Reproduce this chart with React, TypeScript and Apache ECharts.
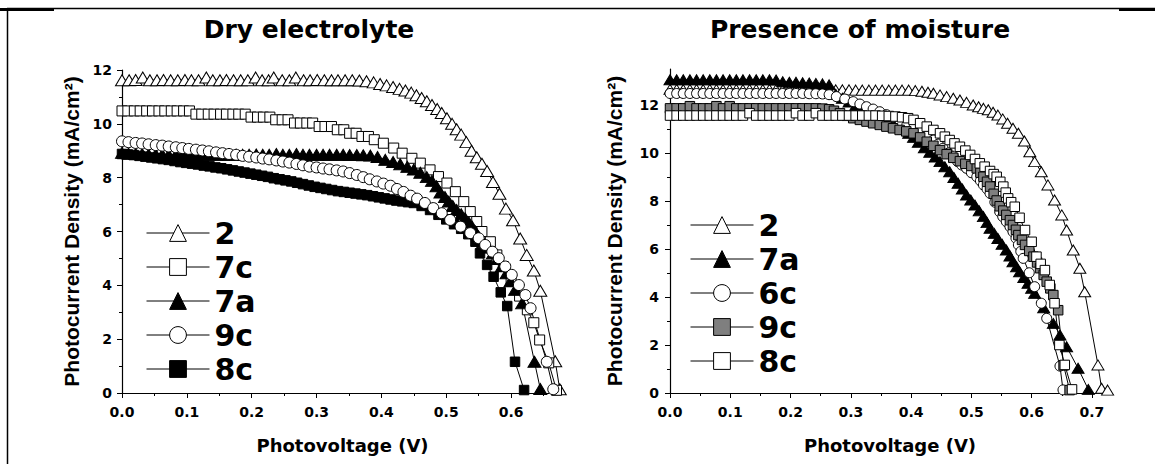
import React, { useEffect, useRef } from "react";
import * as echarts from "echarts";

type P = [number, number];

// ---------- Dry electrolyte (left panel) ----------
const dry2: P[] = [
  [0.000,11.62],[0.011,11.62],[0.021,11.63],[0.032,11.72],[0.043,11.62],[0.054,11.62],[0.064,11.63],[0.075,11.62],
  [0.086,11.62],[0.097,11.63],[0.107,11.62],[0.118,11.62],[0.130,11.72],[0.140,11.62],[0.151,11.62],[0.161,11.63],
  [0.172,11.62],[0.183,11.62],[0.194,11.62],[0.206,11.72],[0.216,11.62],[0.226,11.62],[0.234,11.72],[0.247,11.62],
  [0.258,11.62],[0.268,11.72],[0.280,11.62],[0.290,11.62],[0.301,11.63],[0.312,11.62],[0.323,11.62],[0.333,11.62],
  [0.344,11.62],[0.355,11.62],[0.366,11.61],[0.377,11.58],[0.388,11.54],[0.398,11.48],[0.408,11.43],[0.418,11.37],
  [0.428,11.30],[0.437,11.24],[0.446,11.16],[0.454,11.06],[0.462,10.96],[0.470,10.84],[0.478,10.70],[0.486,10.55],
  [0.493,10.40],[0.501,10.21],[0.509,10.00],[0.516,9.80],[0.523,9.60],[0.531,9.32],[0.539,9.00],[0.547,8.76],
  [0.555,8.52],[0.563,8.25],[0.572,7.84],[0.582,7.40],[0.592,6.85],[0.603,6.42],[0.614,5.74],[0.624,5.13],
  [0.635,4.55],[0.645,3.80],[0.668,1.18],[0.675,0.14]
];
const dry7c: P[] = [
  [0.000,10.48],[0.009,10.48],[0.019,10.48],[0.028,10.48],[0.038,10.48],[0.047,10.48],[0.057,10.48],[0.066,10.48],
  [0.076,10.48],[0.085,10.48],[0.095,10.48],[0.104,10.48],[0.114,10.36],[0.123,10.36],[0.133,10.36],[0.142,10.36],
  [0.152,10.36],[0.161,10.36],[0.171,10.36],[0.180,10.36],[0.190,10.36],[0.199,10.25],[0.209,10.25],[0.218,10.25],
  [0.228,10.25],[0.237,10.15],[0.247,10.15],[0.256,10.15],[0.266,10.03],[0.275,10.03],[0.285,10.03],[0.294,10.03],
  [0.304,9.90],[0.313,9.90],[0.323,9.90],[0.332,9.78],[0.342,9.78],[0.351,9.65],[0.361,9.65],[0.370,9.53],
  [0.380,9.53],[0.389,9.41],[0.403,9.28],[0.419,9.10],[0.432,8.91],[0.447,8.72],[0.460,8.54],[0.475,8.29],
  [0.488,8.04],[0.501,7.80],[0.514,7.48],[0.527,7.11],[0.537,6.74],[0.547,6.37],[0.555,6.00],[0.568,5.62],
  [0.578,5.13],[0.588,4.69],[0.600,4.15],[0.613,3.60],[0.625,3.09],[0.635,2.61],[0.644,1.97],[0.658,1.12],
  [0.670,0.10]
];
const dry7a: P[] = [
  [0.000,8.92],[0.010,8.90],[0.021,8.88],[0.031,8.87],[0.041,8.86],[0.052,8.86],[0.062,8.86],[0.072,8.85],
  [0.083,8.85],[0.093,8.85],[0.103,8.85],[0.114,8.85],[0.124,8.85],[0.134,8.85],[0.145,8.85],[0.155,8.85],
  [0.165,8.85],[0.176,8.85],[0.186,8.85],[0.196,8.85],[0.207,8.86],[0.217,8.85],[0.227,8.85],[0.238,8.88],
  [0.248,8.85],[0.258,8.85],[0.269,8.88],[0.279,8.85],[0.289,8.85],[0.300,8.85],[0.310,8.85],[0.320,8.85],
  [0.331,8.85],[0.341,8.85],[0.351,8.84],[0.362,8.84],[0.372,8.83],[0.383,8.82],[0.394,8.77],[0.406,8.66],
  [0.418,8.58],[0.429,8.50],[0.440,8.40],[0.450,8.30],[0.460,8.18],[0.470,8.02],[0.478,7.88],[0.485,7.68],
  [0.491,7.45],[0.498,7.28],[0.504,7.11],[0.510,6.95],[0.516,6.80],[0.523,6.64],[0.529,6.49],[0.535,6.33],
  [0.540,6.18],[0.545,6.00],[0.550,5.81],[0.557,5.60],[0.564,5.40],[0.572,5.19],[0.579,4.98],[0.586,4.72],
  [0.593,4.45],[0.599,4.15],[0.606,3.83],[0.617,3.33],[0.636,1.16],[0.645,0.15]
];
const dry9c: P[] = [
  [0.000,9.35],[0.010,9.32],[0.021,9.29],[0.031,9.27],[0.041,9.24],[0.052,9.21],[0.062,9.19],[0.072,9.16],
  [0.083,9.13],[0.093,9.10],[0.103,9.07],[0.114,9.04],[0.124,9.01],[0.134,8.98],[0.145,8.94],[0.155,8.91],
  [0.165,8.88],[0.176,8.85],[0.186,8.81],[0.196,8.78],[0.207,8.75],[0.217,8.71],[0.227,8.68],[0.238,8.64],
  [0.248,8.60],[0.258,8.56],[0.269,8.51],[0.279,8.46],[0.289,8.41],[0.300,8.38],[0.310,8.34],[0.320,8.31],
  [0.331,8.27],[0.341,8.23],[0.351,8.17],[0.362,8.10],[0.372,8.02],[0.382,7.94],[0.393,7.86],[0.403,7.78],
  [0.414,7.70],[0.424,7.58],[0.434,7.47],[0.445,7.33],[0.455,7.22],[0.467,7.06],[0.480,6.87],[0.493,6.68],
  [0.506,6.43],[0.522,6.18],[0.537,5.94],[0.550,5.75],[0.560,5.50],[0.571,5.25],[0.581,5.01],[0.591,4.70],
  [0.601,4.39],[0.612,4.01],[0.622,3.64],[0.630,3.15],[0.655,1.16],[0.665,0.14]
];
const dry8c: P[] = [
  [0.000,8.88],[0.009,8.86],[0.018,8.84],[0.027,8.81],[0.036,8.78],[0.045,8.75],[0.054,8.72],[0.063,8.69],
  [0.072,8.66],[0.081,8.62],[0.090,8.58],[0.099,8.55],[0.108,8.52],[0.117,8.49],[0.126,8.45],[0.135,8.42],
  [0.144,8.38],[0.153,8.35],[0.162,8.31],[0.171,8.27],[0.180,8.23],[0.189,8.19],[0.198,8.15],[0.207,8.11],
  [0.216,8.07],[0.225,8.03],[0.234,7.98],[0.243,7.94],[0.252,7.90],[0.261,7.86],[0.270,7.81],[0.279,7.76],
  [0.288,7.71],[0.297,7.66],[0.306,7.62],[0.315,7.58],[0.324,7.54],[0.333,7.50],[0.342,7.47],[0.351,7.44],
  [0.360,7.41],[0.369,7.38],[0.378,7.35],[0.387,7.31],[0.396,7.27],[0.405,7.23],[0.414,7.19],[0.423,7.15],
  [0.432,7.12],[0.441,7.09],[0.450,7.06],[0.462,6.95],[0.475,6.80],[0.488,6.62],[0.500,6.45],[0.512,6.27],
  [0.523,6.10],[0.534,5.90],[0.545,5.62],[0.552,5.19],[0.563,4.76],[0.573,4.32],[0.584,3.74],[0.594,3.23],
  [0.606,1.16],[0.620,0.11]
];

// ---------- Presence of moisture (right panel) ----------
const wet2: P[] = [
  [0.000,12.65],[0.011,12.65],[0.022,12.64],[0.033,12.65],[0.044,12.65],[0.055,12.64],[0.066,12.65],[0.077,12.65],
  [0.088,12.64],[0.099,12.65],[0.110,12.65],[0.121,12.64],[0.132,12.65],[0.143,12.65],[0.154,12.64],[0.165,12.65],
  [0.176,12.65],[0.187,12.64],[0.198,12.65],[0.209,12.65],[0.220,12.64],[0.231,12.65],[0.242,12.65],[0.253,12.64],
  [0.264,12.64],[0.275,12.63],[0.286,12.63],[0.297,12.63],[0.308,12.62],[0.319,12.62],[0.330,12.62],[0.341,12.62],
  [0.352,12.62],[0.363,12.62],[0.374,12.62],[0.385,12.62],[0.396,12.62],[0.407,12.60],[0.418,12.57],[0.428,12.53],
  [0.437,12.49],[0.448,12.42],[0.459,12.35],[0.470,12.28],[0.481,12.21],[0.492,12.11],[0.503,12.00],[0.512,11.93],
  [0.520,11.86],[0.528,11.80],[0.536,11.70],[0.544,11.58],[0.552,11.42],[0.560,11.24],[0.569,11.03],[0.578,10.82],
  [0.588,10.50],[0.597,10.05],[0.605,9.64],[0.616,9.22],[0.627,8.67],[0.638,8.04],[0.650,7.42],[0.658,6.79],
  [0.669,5.96],[0.680,5.20],[0.688,4.22],[0.710,1.17],[0.716,0.20],[0.726,0.12]
];
const wet7a: P[] = [
  [0.000,13.05],[0.011,13.05],[0.022,13.05],[0.033,13.05],[0.044,13.05],[0.055,13.05],[0.066,13.05],[0.077,13.05],
  [0.088,13.05],[0.099,13.05],[0.110,13.05],[0.121,13.05],[0.132,13.05],[0.143,13.05],[0.154,13.05],[0.165,13.05],
  [0.176,13.04],[0.187,12.97],[0.198,12.95],[0.209,12.95],[0.220,12.93],[0.231,12.92],[0.242,12.90],[0.253,12.88],
  [0.264,12.84],[0.275,12.45],[0.286,12.28],[0.297,12.12],[0.308,11.98],[0.319,11.85],[0.330,11.73],[0.341,11.61],
  [0.352,11.49],[0.363,11.36],[0.372,11.24],[0.380,11.12],[0.388,11.00],[0.396,10.82],[0.404,10.65],[0.412,10.45],
  [0.422,10.22],[0.431,10.03],[0.440,9.83],[0.448,9.64],[0.456,9.43],[0.464,9.22],[0.471,8.98],[0.478,8.74],
  [0.485,8.50],[0.492,8.25],[0.499,8.04],[0.506,7.83],[0.513,7.59],[0.520,7.35],[0.526,7.10],[0.531,6.86],
  [0.538,6.65],[0.544,6.44],[0.551,6.20],[0.558,5.96],[0.564,5.71],[0.569,5.47],[0.575,5.26],[0.580,5.05],
  [0.587,4.81],[0.594,4.57],[0.600,4.36],[0.605,4.15],[0.620,3.55],[0.636,2.90],[0.647,2.42],[0.658,1.93],
  [0.677,1.03],[0.694,0.15]
];
const wet6c: P[] = [
  [0.000,12.48],[0.011,12.48],[0.022,12.48],[0.033,12.48],[0.044,12.48],[0.055,12.48],[0.066,12.48],[0.077,12.48],
  [0.088,12.48],[0.099,12.48],[0.110,12.48],[0.121,12.48],[0.132,12.48],[0.143,12.48],[0.154,12.48],[0.165,12.48],
  [0.176,12.48],[0.187,12.48],[0.198,12.48],[0.209,12.48],[0.220,12.48],[0.231,12.47],[0.242,12.47],[0.253,12.46],
  [0.264,12.43],[0.276,12.35],[0.290,12.25],[0.304,12.14],[0.315,12.04],[0.326,11.93],[0.337,11.83],[0.348,11.72],
  [0.359,11.60],[0.370,11.49],[0.382,11.33],[0.393,11.17],[0.404,11.03],[0.415,10.89],[0.426,10.72],[0.437,10.54],
  [0.445,10.37],[0.453,10.20],[0.462,10.00],[0.470,9.85],[0.477,9.65],[0.484,9.50],[0.492,9.36],[0.500,9.18],
  [0.509,9.01],[0.515,8.84],[0.520,8.67],[0.526,8.50],[0.531,8.32],[0.539,7.95],[0.547,7.55],[0.552,7.35],
  [0.558,7.14],[0.564,6.93],[0.569,6.72],[0.574,6.45],[0.578,6.17],[0.582,5.90],[0.586,5.61],[0.596,5.01],
  [0.605,4.43],[0.616,3.74],[0.625,3.11],[0.647,1.12],[0.652,0.13]
];
const wet9c: P[] = [
  [0.000,11.86],[0.011,11.86],[0.022,11.86],[0.033,11.95],[0.044,11.86],[0.055,11.86],[0.066,11.86],[0.077,11.95],
  [0.088,11.86],[0.099,11.95],[0.110,11.86],[0.121,11.86],[0.132,11.86],[0.143,11.86],[0.154,11.86],[0.165,11.86],
  [0.176,11.86],[0.187,11.86],[0.198,11.86],[0.209,11.86],[0.220,11.86],[0.231,11.86],[0.242,11.86],[0.253,11.85],
  [0.264,11.82],[0.272,11.76],[0.282,11.66],[0.293,11.55],[0.304,11.45],[0.315,11.38],[0.326,11.31],[0.337,11.24],
  [0.348,11.17],[0.359,11.10],[0.370,11.03],[0.381,10.96],[0.392,10.90],[0.404,10.82],[0.415,10.65],[0.426,10.47],
  [0.437,10.30],[0.448,10.12],[0.459,9.95],[0.470,9.80],[0.481,9.66],[0.490,9.55],[0.500,9.46],[0.509,9.36],
  [0.515,9.18],[0.520,9.01],[0.526,8.80],[0.531,8.60],[0.537,8.30],[0.542,8.02],[0.547,7.78],[0.553,7.60],
  [0.558,7.42],[0.564,7.20],[0.569,7.00],[0.574,6.80],[0.578,6.58],[0.584,6.38],[0.589,6.17],[0.596,5.92],
  [0.603,5.68],[0.609,5.44],[0.614,5.20],[0.620,4.92],[0.625,4.64],[0.631,4.36],[0.636,4.08],[0.644,3.45],
  [0.653,1.15],[0.663,0.12]
];
const wet8c: P[] = [
  [0.000,11.56],[0.011,11.56],[0.022,11.56],[0.033,11.56],[0.044,11.56],[0.055,11.56],[0.066,11.56],[0.077,11.56],
  [0.088,11.56],[0.099,11.56],[0.110,11.56],[0.121,11.56],[0.132,11.66],[0.143,11.56],[0.154,11.56],[0.165,11.56],
  [0.176,11.56],[0.187,11.56],[0.198,11.56],[0.209,11.66],[0.220,11.56],[0.231,11.56],[0.242,11.66],[0.253,11.56],
  [0.264,11.56],[0.275,11.56],[0.286,11.56],[0.297,11.56],[0.308,11.56],[0.319,11.56],[0.330,11.56],[0.341,11.56],
  [0.352,11.55],[0.363,11.54],[0.374,11.52],[0.385,11.49],[0.395,11.45],[0.404,11.38],[0.415,11.24],[0.426,11.10],
  [0.437,10.96],[0.448,10.82],[0.456,10.68],[0.464,10.54],[0.472,10.40],[0.481,10.26],[0.490,10.10],[0.498,9.92],
  [0.506,9.75],[0.514,9.57],[0.522,9.43],[0.531,9.25],[0.537,9.12],[0.542,9.01],[0.548,8.80],[0.553,8.60],
  [0.557,8.35],[0.561,8.11],[0.566,7.95],[0.572,7.76],[0.580,7.30],[0.589,6.79],[0.600,6.30],[0.608,5.68],
  [0.615,5.38],[0.622,5.12],[0.630,4.50],[0.638,3.74],[0.646,2.00],[0.655,1.17],[0.667,0.15]
];

// ---------- axis ticks ----------
const xTicksDry = [0, 0.1, 0.2, 0.3, 0.4, 0.5, 0.6];
const xMinorDry = [0.05, 0.15, 0.25, 0.35, 0.45, 0.55, 0.65];
const xTicksWet = [0, 0.1, 0.2, 0.3, 0.4, 0.5, 0.6, 0.7];
const xMinorWet = [0.05, 0.15, 0.25, 0.35, 0.45, 0.55, 0.65];
const yTicksDry = [0, 2, 4, 6, 8, 10, 12];
const yMinorDry = [1, 3, 5, 7, 9, 11];
const yTicksWet = [0, 2, 4, 6, 8, 10, 12];
const yMinorWet = [1, 3, 5, 7, 9, 11, 13];

const titles = ["Dry electrolyte", "Presence of moisture"];
const xName = "Photovoltage (V)";
const yName = "Photocurrent Density (mA/cm\u00B2)";

const BOLD = "DejaVu Sans";

export default function App() {
  const ref = useRef<HTMLDivElement>(null);
  useEffect(() => {
    document.body.style.margin = "0";
    if (!ref.current) return;
    const chart = echarts.init(ref.current, undefined, { renderer: "svg" });

    const lineStyle = { color: "#000", width: 1 };
    const mk = (name: string, data: P[], idx: number, symbol: string, size: any, fill: string) => ({
      type: "line",
      name,
      data,
      xAxisIndex: idx,
      yAxisIndex: idx,
      symbol,
      symbolSize: size,
      showSymbol: true,
      showAllSymbol: true,
      clip: false,
      silent: true,
      lineStyle,
      itemStyle: { color: fill, borderColor: "#000", borderWidth: 1 },
      emphasis: { disabled: true },
    });

    const tickLabel = { color: "#000", fontFamily: BOLD, fontWeight: "bold", fontSize: 14 };
    const mainX = (grid: number, max: number, ticks: number[]) => ({
      type: "value", gridIndex: grid, position: "bottom", min: 0, max, interval: 0.1,
      axisLine: { show: true, onZero: false, lineStyle: { color: "#000", width: 1.2 } },
      splitLine: { show: false },
      axisTick: { show: true, length: 5, customValues: ticks, lineStyle: { color: "#000", width: 1 } },
      axisLabel: { ...tickLabel, margin: 12, customValues: ticks, formatter: (v: number) => v.toFixed(1) },
      name: xName, nameLocation: "middle", nameGap: 43,
      nameTextStyle: { color: "#000", fontFamily: BOLD, fontWeight: "bold", fontSize: 18 },
    });
    const minorX = (grid: number, max: number, ticks: number[]) => ({
      type: "value", gridIndex: grid, position: "bottom", min: 0, max,
      axisLine: { show: false }, splitLine: { show: false }, axisLabel: { show: false },
      axisTick: { show: true, length: 3, customValues: ticks, lineStyle: { color: "#000", width: 1 } },
    });
    const mainY = (grid: number, max: number, ticks: number[], gap: number, margin: number) => ({
      type: "value", gridIndex: grid, position: "left", min: 0, max, interval: 2,
      axisLine: { show: true, onZero: false, lineStyle: { color: "#000", width: 1.2 } },
      splitLine: { show: false },
      axisTick: { show: true, length: 5, customValues: ticks, lineStyle: { color: "#000", width: 1 } },
      axisLabel: { ...tickLabel, margin, customValues: ticks, formatter: (v: number) => String(v) },
      name: yName, nameLocation: "middle", nameGap: gap, nameRotate: 90,
      nameTextStyle: { color: "#000", fontFamily: "Liberation Sans", fontWeight: "bold", fontSize: 21 },
    });
    const minorY = (grid: number, max: number, ticks: number[]) => ({
      type: "value", gridIndex: grid, position: "left", min: 0, max,
      axisLine: { show: false }, splitLine: { show: false }, axisLabel: { show: false },
      axisTick: { show: true, length: 3, customValues: ticks, lineStyle: { color: "#000", width: 1 } },
    });

    const legendBase = {
      orient: "vertical", itemWidth: 63, itemHeight: 21, itemGap: 4, padding: 0,
      selectedMode: false,
      formatter: (n: string) => n.slice(1),
      textStyle: { color: "#000", fontFamily: BOLD, fontWeight: "bold", fontSize: 30 },
      lineStyle: { color: "#000", width: 1 },
      itemStyle: { borderColor: "#000", borderWidth: 1 },
    };

    const TRI_L = [13, 11], TRI_R = [12, 10];
    const option: any = {
      animation: false,
      grid: [
        { left: 122, top: 70, width: 441, height: 323 },
        { left: 670, top: 69, width: 440, height: 324 },
      ],
      xAxis: [mainX(0, 0.68, xTicksDry), mainX(1, 0.73, xTicksWet), minorX(0, 0.68, xMinorDry), minorX(1, 0.73, xMinorWet)],
      yAxis: [mainY(0, 12, yTicksDry, 40, 10), mainY(1, 13.5, yTicksWet, 45, 11), minorY(0, 12, yMinorDry), minorY(1, 13.5, yMinorWet)],
      legend: [
        { ...legendBase, left: 146, top: 218, data: ["L2", "L7c", "L7a", "L9c", "L8c"] },
        { ...legendBase, left: 690, top: 210, data: ["R2", "R7a", "R6c", "R9c", "R8c"] },
      ],
      series: [
        mk("L2", dry2, 0, "triangle", TRI_L, "#fff"),
        mk("L7c", dry7c, 0, "rect", 10, "#fff"),
        mk("L8c", dry8c, 0, "rect", 9.5, "#000"),
        mk("L7a", dry7a, 0, "triangle", TRI_L, "#000"),
        mk("L9c", dry9c, 0, "circle", 11, "#fff"),
        mk("R2", wet2, 1, "triangle", TRI_R, "#fff"),
        mk("R7a", wet7a, 1, "triangle", TRI_R, "#000"),
        mk("R6c", wet6c, 1, "circle", 10, "#fff"),
        mk("R9c", wet9c, 1, "rect", 9.5, "#7f7f7f"),
        mk("R8c", wet8c, 1, "rect", 9.5, "#fff"),
      ],
      graphic: [
        { type: "text", x: 309, y: 29, style: { text: titles[0], fill: "#000", font: `bold 25px "${BOLD}"`, align: "center", verticalAlign: "middle", textAlign: "center", textVerticalAlign: "middle" } },
        { type: "text", x: 860, y: 29, style: { text: titles[1], fill: "#000", font: `bold 25px "${BOLD}"`, align: "center", verticalAlign: "middle", textAlign: "center", textVerticalAlign: "middle" } },
        { type: "line", shape: { x1: 7, y1: 8.5, x2: 1155, y2: 8.5 }, style: { stroke: "#000", lineWidth: 1.5 } },
        { type: "line", shape: { x1: 7.5, y1: 8, x2: 7.5, y2: 464 }, style: { stroke: "#000", lineWidth: 1.5 } },
        { type: "rect", shape: { x: 0, y: 8, width: 54, height: 3 }, style: { fill: "#000" } },
        { type: "rect", shape: { x: 1119, y: 8, width: 36, height: 3 }, style: { fill: "#000" } },
      ],
    };
    chart.setOption(option);
    return () => chart.dispose();
  }, []);
  return <div ref={ref} style={{ width: 1155, height: 464 }} />;
}
